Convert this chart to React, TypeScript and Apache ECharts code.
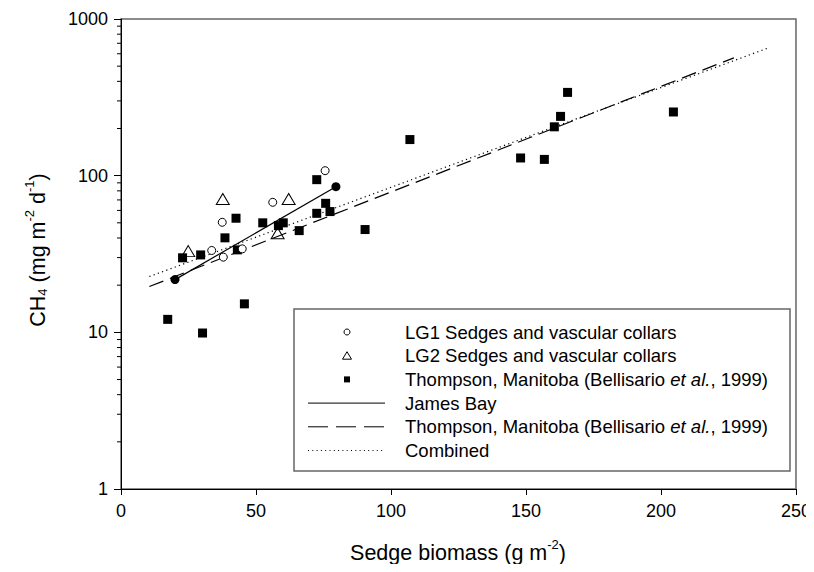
import React, { useEffect, useRef } from "react";
import * as echarts from "echarts";

// LG1 Sedges and vascular collars (open circles)
const lg1X = [33.6, 37.5, 37.9, 44.9, 56.2, 75.6];
const lg1Y = [33.3, 50.4, 30.2, 34.1, 67.6, 107.6];
// LG2 Sedges and vascular collars (open triangles)
const lg2X = [24.9, 37.7, 58.0, 62.1];
const lg2Y = [33, 71, 42.9, 71];
// Thompson, Manitoba (filled squares)
const thX = [17.3, 22.8, 29.5, 30.2, 38.5, 42.6, 43.1, 45.7, 52.5, 58.3, 60.1, 66.0, 72.5, 72.5, 75.8, 77.4, 90.4, 107, 148, 156.8, 160.5, 162.8, 165.4, 204.6];
const thY = [12.1, 29.9, 31.2, 9.9, 40.1, 53.5, 33.6, 15.2, 50, 48, 50, 44.6, 94.3, 57.5, 66.6, 59, 45.3, 170, 129.7, 127, 205, 239, 340, 255];
// Fitted lines (end points)
const jamesBayX = [20, 79.6];
const jamesBayY = [21.7, 85];
const thompsonFitX = [10.5, 227];
const thompsonFitY = [19.6, 565];
const combinedX = [10.5, 240];
const combinedY = [22.7, 656];
// Axis ticks
const xTicks = [0, 50, 100, 150, 200, 250];
const yMinorTicks = [2, 3, 4, 5, 6, 7, 8, 9, 20, 30, 40, 50, 60, 70, 80, 90, 200, 300, 400, 500, 600, 700, 800, 900];

const legendLabels = [
  "LG1 Sedges and vascular collars",
  "LG2 Sedges and vascular collars",
  "Thompson, Manitoba (Bellisario {i|et al.}, 1999)",
  "James Bay",
  "Thompson, Manitoba (Bellisario {i|et al.}, 1999)",
  "Combined",
];

const zip = (xs: number[], ys: number[]) => xs.map((x, i) => [x, ys[i]]);

const FONT = "Liberation Sans, Arial, Helvetica, sans-serif";

export default function App() {
  const ref = useRef<HTMLDivElement>(null);
  useEffect(() => {
    if (!ref.current) return;
    const chart = echarts.init(ref.current, null, { renderer: "svg" });
    const rowY0 = 332;
    const rowDy = 23.7;
    const symX = 347;
    const textX = 405;
    const legendGraphics: any[] = [
      {
        type: "rect",
        shape: { x: 294, y: 309, width: 496, height: 162 },
        style: { fill: "#fff", stroke: "#666", lineWidth: 1.5 },
        z: 50,
      },
      { type: "circle", shape: { cx: symX, cy: rowY0, r: 3 }, style: { fill: "#fff", stroke: "#000", lineWidth: 1 }, z: 51 },
      {
        type: "polygon",
        shape: { points: [[symX, rowY0 + rowDy - 4], [symX - 4.5, rowY0 + rowDy + 3.5], [symX + 4.5, rowY0 + rowDy + 3.5]] },
        style: { fill: "#fff", stroke: "#000", lineWidth: 1 },
        z: 51,
      },
      { type: "rect", shape: { x: symX - 3, y: rowY0 + 2 * rowDy - 3, width: 6, height: 6 }, style: { fill: "#000" }, z: 51 },
      { type: "line", shape: { x1: 308, y1: rowY0 + 3 * rowDy, x2: 385, y2: rowY0 + 3 * rowDy }, style: { stroke: "#000", lineWidth: 1 }, z: 51 },
      { type: "line", shape: { x1: 308, y1: rowY0 + 4 * rowDy, x2: 385, y2: rowY0 + 4 * rowDy }, style: { stroke: "#000", lineWidth: 1, lineDash: [20, 8] }, z: 51 },
      { type: "line", shape: { x1: 308, y1: rowY0 + 5 * rowDy, x2: 385, y2: rowY0 + 5 * rowDy }, style: { stroke: "#000", lineWidth: 1, lineDash: [1, 3.3] }, z: 51 },
      ...legendLabels.map((t, i) => ({
        type: "text",
        x: textX,
        y: rowY0 + i * rowDy,
        z: 51,
        style: {
          text: t,
          fontFamily: FONT,
          fontSize: 18.5,
          fill: "#000",
          verticalAlign: "middle",
          align: "left",
          rich: { i: { fontStyle: "italic", fontFamily: FONT, fontSize: 18.5, fill: "#000" } },
        },
      })),
    ];

    const option: any = {
      animation: false,
      backgroundColor: "#fff",
      grid: {
        left: 121,
        right: 18,
        top: 19,
        bottom: 83,
        show: true,
        borderColor: "#666",
        borderWidth: 1.5,
        backgroundColor: "transparent",
      },
      xAxis: {
        type: "value",
        min: xTicks[0],
        max: xTicks[xTicks.length - 1],
        interval: 50,
        axisLine: { show: true, lineStyle: { color: "#000", width: 1 } },
        axisTick: { show: true, length: 6, lineStyle: { color: "#000" } },
        axisLabel: { fontFamily: FONT, fontSize: 18, color: "#000", margin: 13 },
        splitLine: { show: false },
      },
      yAxis: {
        type: "log",
        logBase: 10,
        min: 1,
        max: 1000,
        axisLine: { show: true, lineStyle: { color: "#000", width: 1 } },
        axisTick: { show: true, length: 7, lineStyle: { color: "#000" } },
        axisLabel: {
          fontFamily: FONT,
          fontSize: 18,
          color: "#000",
          margin: 13,
          formatter: (v: number) => String(Math.round(v)),
        },
        splitLine: { show: false },
      },
      graphic: [
        {
          type: "text",
          x: 458,
          y: 551,
          style: {
            text: "{n|Sedge biomass (g m}{sup|-2}{n|)}",
            align: "center",
            verticalAlign: "middle",
            rich: {
              n: { fontFamily: FONT, fontSize: 21.5, fill: "#000", lineHeight: 26, verticalAlign: "bottom" },
              sup: { fontFamily: FONT, fontSize: 13, fill: "#000", lineHeight: 26, verticalAlign: "top" },
            },
          },
        },
        {
          type: "text",
          x: 36,
          y: 250,
          rotation: Math.PI / 2,
          style: {
            text: "{n|CH}{sub|4}{n| (mg m}{sup|-2}{n| d}{sup|-1}{n|)}",
            align: "center",
            verticalAlign: "middle",
            rich: {
              n: { fontFamily: FONT, fontSize: 21.5, fill: "#000", lineHeight: 26, verticalAlign: "bottom" },
              sup: { fontFamily: FONT, fontSize: 13, fill: "#000", lineHeight: 26, verticalAlign: "top" },
              sub: { fontFamily: FONT, fontSize: 13, fill: "#000", lineHeight: 16, verticalAlign: "bottom" },
            },
          },
        },
        ...legendGraphics,
      ],
      series: [
        {
          name: "minorTicks",
          type: "custom",
          data: yMinorTicks.map((v) => [0, v]),
          clip: false,
          silent: true,
          renderItem: (params: any, api: any) => {
            const p = api.coord([0, api.value(1)]);
            return {
              type: "line",
              shape: { x1: p[0] - 4, y1: p[1], x2: p[0], y2: p[1] },
              style: { stroke: "#000", lineWidth: 1 },
            };
          },
          z: 5,
        },
        {
          name: "Combined",
          type: "line",
          data: zip(combinedX, combinedY),
          showSymbol: false,
          symbol: "none",
          lineStyle: { color: "#000", width: 1.2, type: [1.2, 3.3] },
          z: 2,
        },
        {
          name: "Thompson fit",
          type: "line",
          data: zip(thompsonFitX, thompsonFitY),
          symbol: "none",
          lineStyle: { color: "#000", width: 1.2, type: [15, 7] },
          z: 2,
        },
        {
          name: "James Bay",
          type: "line",
          data: zip(jamesBayX, jamesBayY),
          symbol: "circle",
          symbolSize: 9,
          itemStyle: { color: "#000", opacity: 1 },
          lineStyle: { color: "#000", width: 1.2 },
          z: 3,
        },
        {
          name: "Thompson",
          type: "scatter",
          data: zip(thX, thY),
          symbol: "rect",
          symbolSize: 9,
          itemStyle: { color: "#000", opacity: 1 },
          z: 4,
        },
        {
          name: "LG2",
          type: "scatter",
          data: zip(lg2X, lg2Y),
          symbol: "triangle",
          symbolSize: [13, 11],
          itemStyle: { color: "rgba(255,255,255,0)", borderColor: "#000", borderWidth: 1, opacity: 1 },
          z: 4,
        },
        {
          name: "LG1",
          type: "scatter",
          data: zip(lg1X, lg1Y),
          symbol: "circle",
          symbolSize: 8,
          itemStyle: { color: "#fff", borderColor: "#000", borderWidth: 1, opacity: 1 },
          z: 4,
        },
      ],
    };
    chart.setOption(option);
    return () => chart.dispose();
  }, []);
  return <div ref={ref} style={{ width: 814, height: 572, margin: -8 }} />;
}
